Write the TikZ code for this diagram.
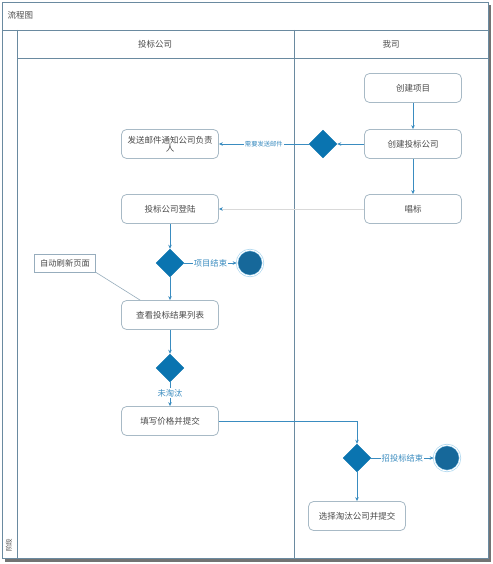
\documentclass[tikz,border=0pt]{standalone}
\usepackage{fontspec}
\setmainfont{Noto Sans CJK SC}
\usetikzlibrary{arrows.meta,shapes.geometric,calc}
\definecolor{frameC}{HTML}{6A8AA0}
\definecolor{boxC}{HTML}{A8BAC6}
\definecolor{lineC}{HTML}{3A8CC0}
\definecolor{diaC}{HTML}{0A74B0}
\definecolor{endC}{HTML}{16689A}
\definecolor{ringC}{HTML}{9FD0EC}
\definecolor{txtC}{HTML}{4A4A4A}
\definecolor{lblC}{HTML}{3A8CC0}
\tikzset{
  x=1pt, y=-1pt,
  proc/.style={draw=boxC, line width=0.8pt, rounded corners=5pt, fill=white,
    minimum width=97pt, minimum height=29pt, inner sep=1pt,
    font=\fontsize{8.5}{9.5}\selectfont, text=txtC, align=center},
  dec/.style={diamond, fill=diaC, draw=diaC, minimum width=28pt, minimum height=28pt, inner sep=0pt},
  endpt/.style={circle, fill=endC, draw=ringC, line width=0.6pt, double=white, double distance=1pt,
    minimum size=26pt, inner sep=0pt},
  flow/.style={draw=lineC, line width=0.7pt, -{Stealth[length=4pt,width=3.5pt]}},
  faint/.style={draw=black!15, line width=0.7pt, -{Stealth[length=4pt,width=3.5pt,color=lineC]}},
  lbl/.style={fill=white, text=lblC, inner sep=1pt, font=\fontsize{8.3}{9}\selectfont},
  smalllbl/.style={fill=white, text=lblC, inner sep=1pt, font=\fontsize{6.3}{7}\selectfont},
  frm/.style={draw=frameC, line width=0.6pt},
  hdr/.style={text=txtC, font=\fontsize{8.5}{9}\selectfont},
  notebox/.style={draw=frameC!70, line width=0.6pt, fill=white, minimum width=61pt, minimum height=18pt,
    inner sep=1pt, font=\fontsize{8.3}{9}\selectfont, text=txtC}
}
\begin{document}
\begin{tikzpicture}
\useasboundingbox (0,0) rectangle (492,564);
% shadow and frame
\fill[black!55] (5,558) rectangle (491,562);
\fill[black!55] (488,5) rectangle (491,562);
\fill[white] (2,2) rectangle (488,558);
\draw[frm] (2,2) rectangle (488,558);
\draw[frm] (2,30) -- (488,30);
\draw[frm] (17,30) -- (17,558);
\draw[frm] (17,58) -- (488,58);
\draw[frm] (294,30) -- (294,558);
\node[hdr, anchor=west] (title) at (4,15) {流程图};
\node[hdr] (lane1) at (155,44) {投标公司};
\node[hdr] (lane2) at (391,44) {我司};
\node[hdr, rotate=90, font=\fontsize{6.5}{7}\selectfont] (stage) at (9,545) {阶段};
% nodes
\node[proc] (p1) at (413,88) {创建项目};
\node[proc] (p2) at (413,144) {创建投标公司};
\node[proc] (p3) at (413,209) {唱标};
\node[dec] (d1) at (323,144) {};
\node[proc] (mail) at (170,144) {发送邮件通知公司负责\\[-1pt]人};
\node[proc] (login) at (170,209) {投标公司登陆};
\node[dec] (d2) at (170,263) {};
\node[endpt] (e1) at (250,263) {};
\node[notebox] (note) at (65,263) {自动刷新页面};
\node[proc] (view) at (170,315) {查看投标结果列表};
\node[dec] (d3) at (170,368) {};
\node[proc] (fill) at (170,421) {填写价格并提交};
\node[dec] (d4) at (357,458) {};
\node[endpt] (e2) at (447,458) {};
\node[proc] (sel) at (357,516) {选择淘汰公司并提交};
% edges
\path[flow] (p1) -- (p2);
\path[flow] (p2) -- (d1);
\path[flow] (d1) -- node[smalllbl] (l1) {需要发送邮件} (mail);
\path[flow] (p2) -- (p3);
\path[faint] (p3) -- (login);
\path[flow] (login) -- (d2);
\path[flow] (d2) -- node[lbl] (l2) {项目结束} (e1);
\path[flow] (d2) -- (view);
\draw[frameC!70, line width=0.6pt] (note.south east) -- ($(view.north west)+(19,0)$);
\path[flow] (view) -- (d3);
\path[flow] (d3) -- node[lbl, pos=0.45] (l3) {未淘汰} (fill);
\path[flow] (fill) -| (d4);
\path[flow] (d4) -- node[lbl] (l4) {招投标结束} (e2);
\path[flow] (d4) -- (sel);
\end{tikzpicture}
\end{document}
